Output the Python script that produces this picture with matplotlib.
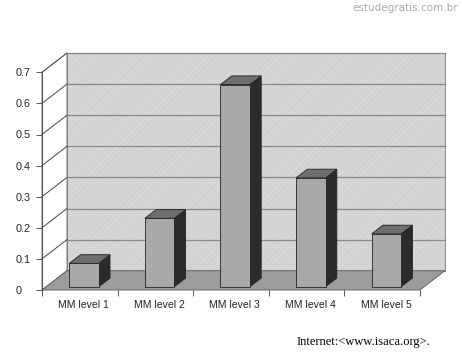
import matplotlib
matplotlib.use('Agg')
import matplotlib.pyplot as plt
from matplotlib.patches import Polygon

# ---- data ----
categories = ['MM level 1', 'MM level 2', 'MM level 3', 'MM level 4', 'MM level 5']
values = [0.075, 0.22, 0.65, 0.35, 0.17]
yticks = [0, 0.1, 0.2, 0.3, 0.4, 0.5, 0.6, 0.7]
ytick_labels = ['0', '0.1', '0.2', '0.3', '0.4', '0.5', '0.6', '0.7']

# pseudo 3d geometry (depth offset in data units)
DX, DY = 0.33, 0.062
YMAX = 0.7
n = len(categories)

plt.rcParams['hatch.linewidth'] = 0.4
fig = plt.figure(figsize=(4.62, 3.59), dpi=100)
ax = fig.add_axes([42/462, 69/359, 378/462, YMAX*311/359])
ax.set_xlim(0, n)
ax.set_ylim(0, YMAX)
ax.patch.set_visible(False)
for s in ['top', 'right', 'bottom']:
    ax.spines[s].set_visible(False)
ax.spines['left'].set_color('#555555')
ax.spines['left'].set_linewidth(0.8)

def poly(pts, fc, ec='#222222', lw=0.6, z=1, hatch=None):
    ax.add_patch(Polygon(pts, closed=True, facecolor=fc, edgecolor=ec,
                         linewidth=lw, zorder=z, clip_on=False, hatch=hatch))

# back wall (with faint texture)
wall = [(DX, DY), (n+DX, DY), (n+DX, YMAX+DY), (DX, YMAX+DY)]
poly(wall, '#d6d6d6', ec='#cbcbcb', lw=0, z=0, hatch='//////')
poly(wall, 'none', ec='#777777', z=0.1)
# left side wall
poly([(0, 0), (DX, DY), (DX, YMAX+DY), (0, YMAX)], 'white', ec='#777777', lw=0.6, z=0)
for v in yticks[1:]:
    ax.plot([DX, n+DX], [v+DY, v+DY], color='#888888', lw=0.9, zorder=0.5, clip_on=False)
    ax.plot([0, DX], [v, v+DY], color='#444444', lw=0.7, zorder=0.5, clip_on=False)
# floor
poly([(0, 0), (n, 0), (n+DX, DY), (DX, DY)], '#9c9c9c', ec='#555555', lw=0.6, z=0.6)

# bars
w = 0.195
d0, d1 = 0.17, 0.62
for i, v in enumerate(values):
    cx = i + 0.5
    x0, x1 = cx - w + d0*DX, cx + w + d0*DX
    y0 = d0*DY
    ox, oy = (d1-d0)*DX, (d1-d0)*DY
    # side
    poly([(x1, y0), (x1+ox, y0+oy), (x1+ox, y0+oy+v), (x1, y0+v)], '#2b2b2b', z=2)
    # top
    poly([(x0, y0+v), (x1, y0+v), (x1+ox, y0+oy+v), (x0+ox, y0+oy+v)], '#6e6e6e', z=2)
    # front
    poly([(x0, y0), (x1, y0), (x1, y0+v), (x0, y0+v)], '#a9a9a9', z=2)

# ticks
ax.set_yticks(yticks)
ax.set_yticklabels(ytick_labels, fontsize=7.8, family='Liberation Sans', color='#222222')
ax.tick_params(axis='y', direction='out', length=4, width=0.7, color='#555555', pad=15)
for t in ax.get_yticklabels():
    t.set_horizontalalignment('left')
ax.set_xticks(range(n+1))
ax.set_xticklabels([''] * (n+1))
ax.set_xticks([i + 0.55 for i in range(n)], minor=True)
ax.set_xticklabels(categories, minor=True, fontsize=7.5, family='Liberation Sans', color='#222222')
ax.tick_params(axis='x', which='major', direction='out', length=4, width=0.7, color='#555555')
ax.tick_params(axis='x', which='minor', length=0, pad=7)

fig.text(458/462, 1 - 8/359, 'estudegratis.com.br', ha='right', va='center',
         fontsize=7.5, color='#aaaaaa', family='DejaVu Sans')
fig.text(297/462, 1 - 342/359, 'Internet:<www.isaca.org>.', ha='left', va='center',
         fontsize=9, color='black', family='Liberation Serif')

fig.savefig('out.png', dpi=100)
